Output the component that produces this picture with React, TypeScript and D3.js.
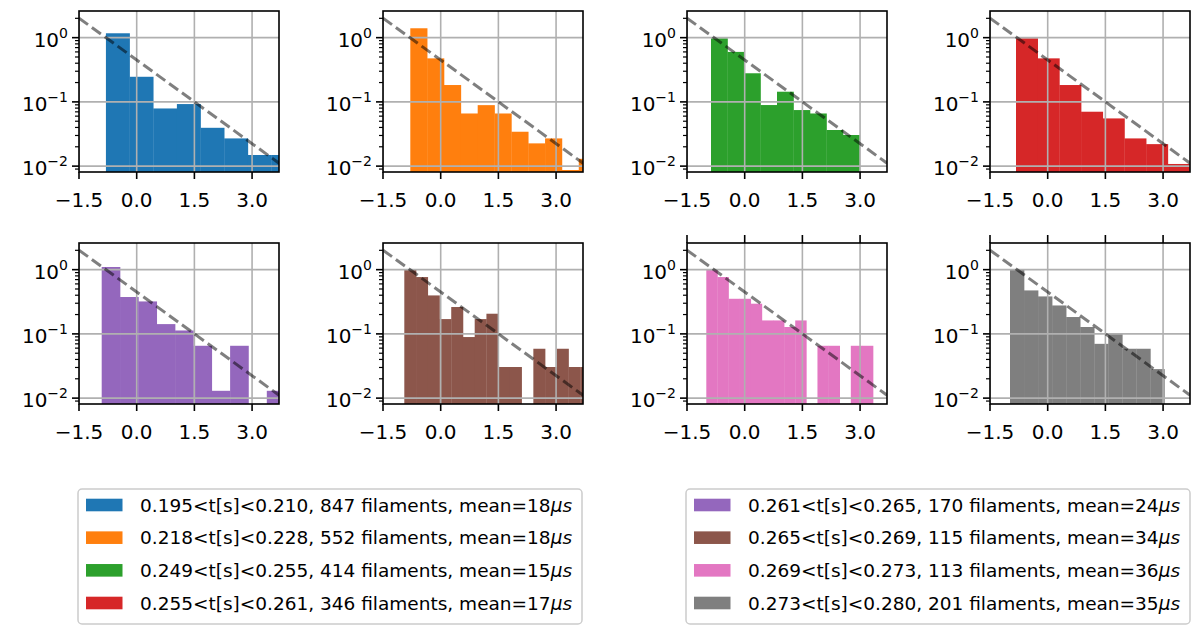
import React from "react";
import * as d3 from "d3";

// histogram densities, one array per time window
const blueHist = [1.17, 0.246, 0.079, 0.0925, 0.0395, 0.027, 0.0149, 0.0149];
const orangeHist = [1.4, 0.476, 0.183, 0.066, 0.089, 0.066, 0.0343, 0.0226, 0.027, 0.0087, 0.013];
const greenHist = [0.977, 0.6, 0.279, 0.0893, 0.144, 0.0746, 0.066, 0.0365, 0.0305];
const redHist = [0.977, 0.476, 0.183, 0.0703, 0.0553, 0.027, 0.022, 0.0108];
const purpleHist = [1.1, 0.375, 0.32, 0.142, 0.113, 0.0653, 0.013, 0.0653, 0, 0.013];
const brownHist = [1.0, 0.767, 0.397, 0.17, 0.262, 0.0893, 0.17, 0.206, 0.0305, 0.0305, 0, 0.0587, 0.0305, 0.0587, 0.0305, 0.0305];
const pinkHist = [1.0, 0.767, 0.352, 0.352, 0.295, 0.162, 0.162, 0.128, 0.162, 0, 0.0653, 0.0653, 0, 0.0653, 0.0653];
const grayHist = [1.0, 0.475, 0.383, 0.277, 0.183, 0.128, 0.07, 0.1, 0.0587, 0.0587, 0.0283];

const histograms = [blueHist, orangeHist, greenHist, redHist, purpleHist, brownHist, pinkHist, grayHist];
// first bin edge and bin width of each histogram
const binStarts = [-0.8, -0.79, -0.876, -0.824, -0.91, -0.946, -0.998, -0.98];
const binWidths = [0.615, 0.438, 0.429, 0.564, 0.477, 0.305, 0.289, 0.365];

const colors = ["#1f77b4", "#ff7f0e", "#2ca02c", "#d62728", "#9467bd", "#8c564b", "#e377c2", "#7f7f7f"];

const labels = [
  "0.195<t[s]<0.210, 847 filaments, mean=18",
  "0.218<t[s]<0.228, 552 filaments, mean=18",
  "0.249<t[s]<0.255, 414 filaments, mean=15",
  "0.255<t[s]<0.261, 346 filaments, mean=17",
  "0.261<t[s]<0.265, 170 filaments, mean=24",
  "0.265<t[s]<0.269, 115 filaments, mean=34",
  "0.269<t[s]<0.273, 113 filaments, mean=36",
  "0.273<t[s]<0.280, 201 filaments, mean=35",
];

const xTicks = [-1.5, 0, 1.5, 3.0];
const xTickLabels = ["\u22121.5", "0.0", "1.5", "3.0"];
const yTicks = [1, 0.1, 0.01];
const yTickExps = ["0", "\u22121", "\u22122"];
const xDomain = [-1.5, 3.7];
const yDomain = [0.0081, 2.6];
// reference exponential exp(-(x + refShift))
const refShift = 0.8;

// layout
const panelLefts = [79, 383, 687, 990];
const rowTops = [11, 243];
const panelW = 200;
const panelH = 161;
const font = "DejaVu Sans, sans-serif";

const minorTicks: number[] = [];
for (let e = -3; e <= 0; e++) {
  for (let m = 2; m <= 9; m++) {
    const v = m * Math.pow(10, e);
    if (v >= yDomain[0] && v <= yDomain[1]) minorTicks.push(v);
  }
}

const Panel: React.FC<{ idx: number }> = ({ idx }) => {
  const left = panelLefts[idx % 4];
  const top = rowTops[Math.floor(idx / 4)];
  const bottom = top + panelH;
  const x = d3.scaleLinear().domain(xDomain).range([left, left + panelW]);
  const y = d3.scaleLog().domain(yDomain).range([bottom, top]);
  const values = histograms[idx];
  const start = binStarts[idx];
  const w = binWidths[idx];

  const refLine = d3
    .line<number>()
    .x(d => x(d))
    .y(d => y(Math.exp(-(d + refShift))))(xDomain);

  return (
    <g>
      <defs>
        <clipPath id={`clip${idx}`}>
          <rect x={left} y={top} width={panelW} height={panelH} />
        </clipPath>
      </defs>
      <g clipPath={`url(#clip${idx})`}>
        {values.map((v, i) =>
          v > 0 ? (
            <rect
              key={i}
              x={x(start + i * w)}
              width={x(start + (i + 1) * w) - x(start + i * w) + 0.3}
              y={y(v)}
              height={bottom - y(v)}
              fill={colors[idx]}
            />
          ) : null
        )}
        {xTicks.map(t => (
          <line key={"gx" + t} x1={x(t)} x2={x(t)} y1={top} y2={bottom} stroke="#b0b0b0" strokeWidth={1.6} />
        ))}
        {yTicks.map(t => (
          <line key={"gy" + t} x1={left} x2={left + panelW} y1={y(t)} y2={y(t)} stroke="#b0b0b0" strokeWidth={1.6} />
        ))}
        <path d={refLine || ""} fill="none" stroke="#000" strokeOpacity={0.5} strokeWidth={3} strokeDasharray="11.1 4.8" />
      </g>
      <rect x={left} y={top} width={panelW} height={panelH} fill="none" stroke="#000" strokeWidth={1.6} />
      {xTicks.map((t, i) => (
        <g key={"xt" + t}>
          <line x1={x(t)} x2={x(t)} y1={bottom} y2={bottom + 7} stroke="#000" strokeWidth={1.6} />
          {idx >= 6 ? (
            <line x1={x(t)} x2={x(t)} y1={top - 8} y2={top} stroke="#000" strokeWidth={1.6} />
          ) : null}
          <text x={x(t)} y={bottom + 34.5} textAnchor="middle" fontSize={20} fontFamily={font} fill="#000">
            {xTickLabels[i]}
          </text>
        </g>
      ))}
      {minorTicks.map(t => (
        <line key={"mt" + t} x1={left - 4} x2={left} y1={y(t)} y2={y(t)} stroke="#000" strokeWidth={1.2} />
      ))}
      {yTicks.map((t, i) => (
        <g key={"yt" + t}>
          <line x1={left - 7} x2={left} y1={y(t)} y2={y(t)} stroke="#000" strokeWidth={1.6} />
          <text x={left - 11} y={y(t) + 9} textAnchor="end" fontSize={20} fontFamily={font} fill="#000">
            10
            <tspan fontSize={14} dy={-9}>
              {yTickExps[i]}
            </tspan>
          </text>
        </g>
      ))}
    </g>
  );
};

const Legend: React.FC<{ items: number[]; left: number }> = ({ items, left }) => {
  const top = 489;
  const rowY = d3.scaleLinear().domain([0, 3]).range([505, 603]);
  return (
    <g>
      <rect x={left} y={top} width={504} height={135} rx={4} fill="#fff" fillOpacity={0.8} stroke="#cccccc" strokeWidth={1.5} />
      {items.map((k, i) => (
        <g key={k}>
          <rect x={left + 8} y={rowY(i) - 6.3} width={36.5} height={12.6} fill={colors[k]} />
          <text x={left + 62} y={rowY(i) + 6.5} fontSize={18.5} fontFamily={font} fill="#000">
            {labels[k]}
            <tspan fontStyle="italic">{"\u03bcs"}</tspan>
          </text>
        </g>
      ))}
    </g>
  );
};

export default function App() {
  return (
    <svg
      width={1192}
      height={626}
      style={{ position: "absolute", left: 0, top: 0, background: "#fff" }}
    >
      {histograms.map((_, i) => (
        <Panel key={i} idx={i} />
      ))}
      <Legend items={[0, 1, 2, 3]} left={78} />
      <Legend items={[4, 5, 6, 7]} left={686} />
    </svg>
  );
}
